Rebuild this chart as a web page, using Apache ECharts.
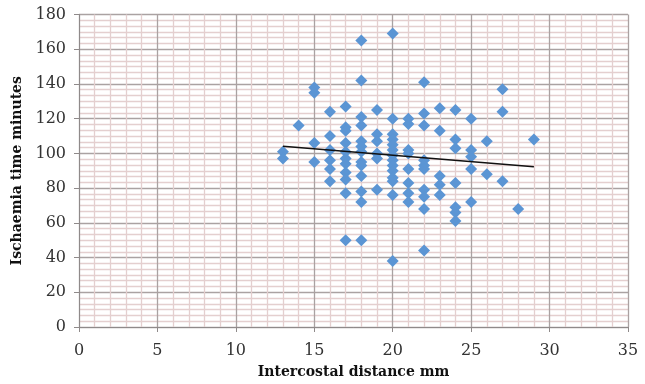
<!DOCTYPE html>
<html>
<head>
<meta charset="utf-8">
<script src="https://cdn.jsdelivr.net/npm/echarts@6/dist/echarts.min.js"></script>
<style>html,body{margin:0;padding:0;background:#fff}#c{width:645px;height:384px}</style>
</head>
<body>
<div id="c"></div>
<script>
// x = intercostal distance (mm), y = ischaemia time (minutes)
const xTickLabels = ['0','5','10','15','20','25','30','35'];
const yTickLabels = ['0','20','40','60','80','100','120','140','160','180'];
const distances = [
  13,13,
  14,
  15,15,15,15,
  16,16,16,16,16,16,
  17,17,17,17,17,17,17,17,17,17,17,
  18,18,18,18,18,18,18,18,18,18,18,18,18,
  19,19,19,19,19,19,
  20,20,20,20,20,20,20,20,20,20,20,20,20,20,
  21,21,21,21,21,21,21,21,
  22,22,22,22,22,22,22,22,22,22,
  23,23,23,23,23,
  24,24,24,24,24,24,24,
  25,25,25,25,25,
  26,26,
  27,27,27,
  28,
  29
];
const ischaemiaTimes = [
  101,97,
  116,
  138,135,106,95,
  124,110,102,96,91,84,
  127,115,113,106,101,97,94,89,85,77,50,
  165,142,121,116,107,104,101,95,93,87,78,72,50,
  125,111,107,100,97,79,
  169,120,111,108,105,102,99,96,93,90,86,84,76,38,
  120,117,102,100,91,83,77,72,
  141,123,116,96,93,91,79,75,68,44,
  126,113,87,82,76,
  125,108,103,83,69,66,61,
  120,102,98,91,72,
  107,88,
  137,124,84,
  68,
  108
];
const trendX = [13, 29];
const trendY = [104.1, 92.3];

const points = distances.map((d, i) => [d, ischaemiaTimes[i]]);
const trend = trendX.map((d, i) => [d, trendY[i]]);

const font = '"DejaVu Serif", "Liberation Serif", serif';
const chart = echarts.init(document.getElementById('c'), null, {renderer: 'canvas'});
chart.setOption({
  animation: false,
  backgroundColor: '#fff',
  grid: {left: 79, right: 17, top: 14.5, bottom: 56},
  xAxis: {
    type: 'value', min: 0, max: 35, interval: 5,
    name: 'Intercostal distance mm', nameLocation: 'middle', nameGap: 38,
    nameTextStyle: {fontFamily: font, fontWeight: 'bold', fontSize: 14, color: '#111'},
    axisLine: {show: true, lineStyle: {color: '#8f8a8a', width: 1}},
    axisTick: {show: true, length: 5, lineStyle: {color: '#8f8a8a'}},
    axisLabel: {fontFamily: font, fontSize: 16, color: '#333', margin: 16,
      formatter: v => xTickLabels[Math.round(v / 5)]},
    splitLine: {show: true, lineStyle: {color: '#aaa2a2', width: 1.3}},
    minorTick: {show: true, splitNumber: 5, length: 0},
    minorSplitLine: {show: true, lineStyle: {color: '#e4cfcf', width: 1.3}}
  },
  yAxis: {
    type: 'value', min: 0, max: 180, interval: 20,
    name: 'Ischaemia time minutes', nameLocation: 'middle', nameGap: 52, nameRotate: 90,
    nameTextStyle: {fontFamily: font, fontWeight: 'bold', fontSize: 14, color: '#111'},
    axisLine: {show: true, lineStyle: {color: '#8f8a8a', width: 1}},
    axisTick: {show: true, length: 5, lineStyle: {color: '#8f8a8a'}},
    axisLabel: {fontFamily: font, fontSize: 16, color: '#333', margin: 13,
      formatter: v => yTickLabels[Math.round(v / 20)]},
    splitLine: {show: true, lineStyle: {color: '#aaa2a2', width: 1.3}},
    minorTick: {show: true, splitNumber: 6, length: 0},
    minorSplitLine: {show: true, lineStyle: {color: '#e4cfcf', width: 1.3}}
  },
  series: [
    {
      type: 'scatter', data: points, symbol: 'diamond', symbolSize: [12, 12],
      itemStyle: {color: '#5b95d4', opacity: 1}, z: 3
    },
    {
      type: 'line', data: trend, symbol: 'none',
      lineStyle: {color: '#111', width: 1.5}, z: 4
    }
  ]
});
</script>
</body>
</html>
